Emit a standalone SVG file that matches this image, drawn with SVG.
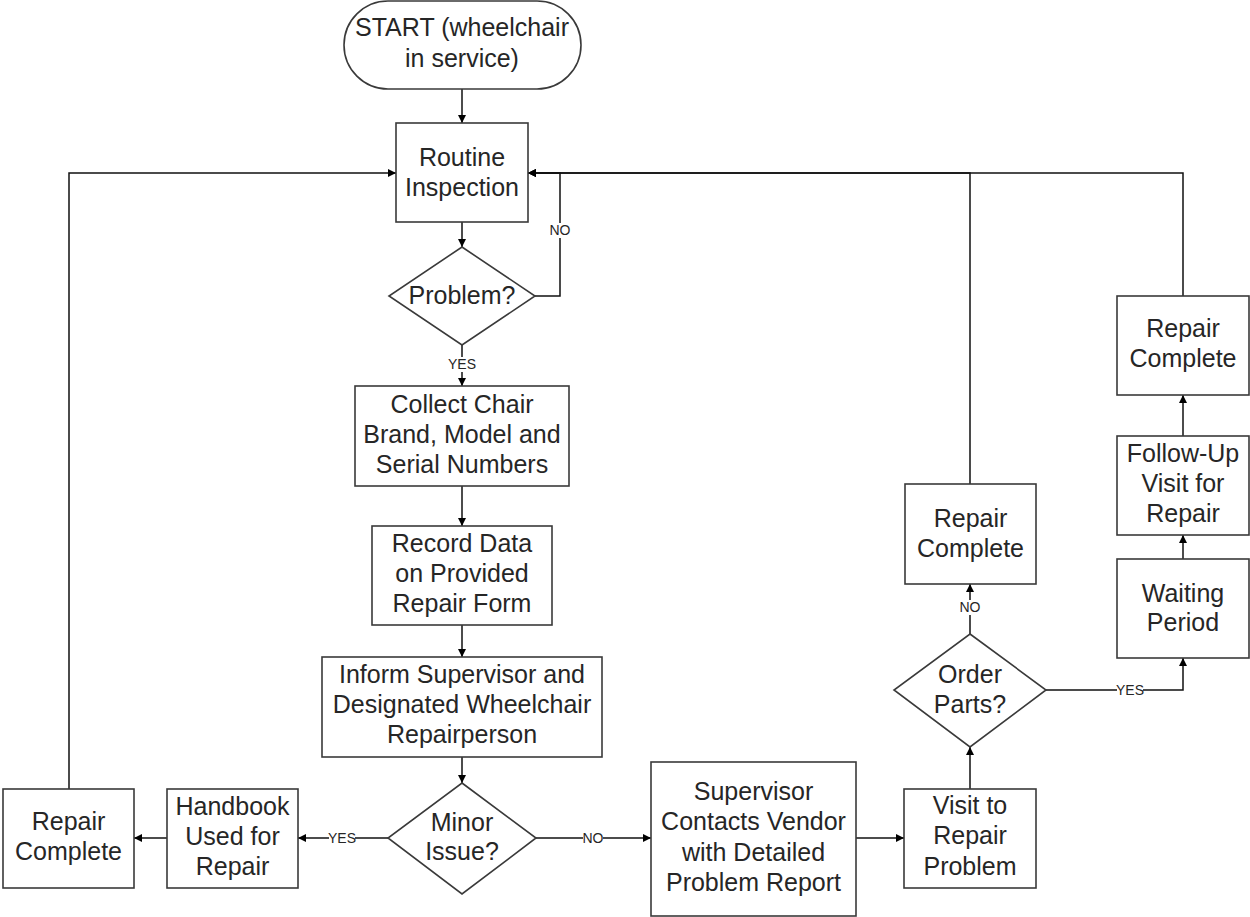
<svg xmlns="http://www.w3.org/2000/svg" width="1250" height="917" viewBox="0 0 1250 917">
<defs>
<marker id="ah" viewBox="0 0 10 10" refX="10" refY="5" markerWidth="8" markerHeight="8" markerUnits="userSpaceOnUse" orient="auto">
<path d="M0,0 L10,5 L0,10 z" fill="#000"/>
</marker>
<style>
.shape{fill:#fff;stroke:#3a3a3a;stroke-width:1.6}
.t{font-family:"Liberation Sans",Arial,sans-serif;font-size:25px;fill:#262626;text-anchor:middle}
.c{fill:none;stroke:#111;stroke-width:1.5}
.a{marker-end:url(#ah)}
.bg{fill:#fff;stroke:none}
.lbl{font-family:"Liberation Sans",Arial,sans-serif;font-size:14px;fill:#262626;text-anchor:middle}
</style>
</defs>
<rect width="1250" height="917" fill="#fff"/>
<g id="connectors">
<path class="c a" d="M462,89 V123"/>
<path class="c a" d="M462,222 V247"/>
<path class="c a" d="M535,296 H560 V173 H528"/>
<path class="c a" d="M462,345 V386"/>
<path class="c a" d="M462,486 V526"/>
<path class="c a" d="M462,625 V657"/>
<path class="c a" d="M462,757 V783"/>
<path class="c a" d="M388,838 H298"/>
<path class="c a" d="M167,838 H134"/>
<path class="c a" d="M69,789 V173 H396"/>
<path class="c a" d="M536,838 H651"/>
<path class="c a" d="M856,838 H904"/>
<path class="c a" d="M970,789 V747"/>
<path class="c a" d="M970,634 V584"/>
<path class="c a" d="M970,484 V173 H528"/>
<path class="c a" d="M1046,690 H1183 V658"/>
<path class="c a" d="M1183,559 V535"/>
<path class="c a" d="M1183,436 V395"/>
<path class="c a" d="M1183,296 V173 H528"/>
<rect class="bg" x="550" y="223" width="20" height="15"/>
<text class="lbl" x="560" y="235">NO</text>
<rect class="bg" x="449" y="357" width="26" height="15"/>
<text class="lbl" x="462" y="369">YES</text>
<rect class="bg" x="329" y="831" width="26" height="15"/>
<text class="lbl" x="342" y="843">YES</text>
<rect class="bg" x="583" y="831" width="20" height="15"/>
<text class="lbl" x="593" y="843">NO</text>
<rect class="bg" x="960" y="600" width="20" height="15"/>
<text class="lbl" x="970" y="612">NO</text>
<rect class="bg" x="1117" y="683" width="26" height="15"/>
<text class="lbl" x="1130" y="695">YES</text>
</g>
<g id="start">
<rect class="shape" x="344" y="1" width="237" height="88" rx="44" ry="44"/>
<text class="t" x="462" y="36">START (wheelchair</text>
<text class="t" x="462" y="67">in service)</text>
</g>
<g id="routine">
<rect class="shape" x="396" y="123" width="132" height="99"/>
<text class="t" x="462" y="166">Routine</text>
<text class="t" x="462" y="196">Inspection</text>
</g>
<g id="problem">
<polygon class="shape" points="462,247 535,296 462,345 389,296"/>
<text class="t" x="462" y="304">Problem?</text>
</g>
<g id="collect">
<rect class="shape" x="355" y="386" width="214" height="100"/>
<text class="t" x="462" y="413">Collect Chair</text>
<text class="t" x="462" y="443">Brand, Model and</text>
<text class="t" x="462" y="473">Serial Numbers</text>
</g>
<g id="record">
<rect class="shape" x="372" y="526" width="180" height="99"/>
<text class="t" x="462" y="552">Record Data</text>
<text class="t" x="462" y="582">on Provided</text>
<text class="t" x="462" y="612">Repair Form</text>
</g>
<g id="inform">
<rect class="shape" x="322" y="657" width="280" height="100"/>
<text class="t" x="462" y="683">Inform Supervisor and</text>
<text class="t" x="462" y="713">Designated Wheelchair</text>
<text class="t" x="462" y="743">Repairperson</text>
</g>
<g id="minor">
<polygon class="shape" points="462,783 536,838 462,894 388,838"/>
<text class="t" x="462" y="831">Minor</text>
<text class="t" x="462" y="860">Issue?</text>
</g>
<g id="handbook">
<rect class="shape" x="167" y="789" width="131" height="99"/>
<text class="t" x="232.5" y="815">Handbook</text>
<text class="t" x="232.5" y="845">Used for</text>
<text class="t" x="232.5" y="875">Repair</text>
</g>
<g id="repair-left">
<rect class="shape" x="3" y="789" width="131" height="99"/>
<text class="t" x="68.5" y="830">Repair</text>
<text class="t" x="68.5" y="860">Complete</text>
</g>
<g id="supervisor">
<rect class="shape" x="651" y="762" width="205" height="154"/>
<text class="t" x="753.5" y="800">Supervisor</text>
<text class="t" x="753.5" y="830">Contacts Vendor</text>
<text class="t" x="753.5" y="861">with Detailed</text>
<text class="t" x="753.5" y="891">Problem Report</text>
</g>
<g id="visit">
<rect class="shape" x="904" y="789" width="132" height="99"/>
<text class="t" x="970" y="814">Visit to</text>
<text class="t" x="970" y="844">Repair</text>
<text class="t" x="970" y="875">Problem</text>
</g>
<g id="order">
<polygon class="shape" points="970,634 1046,690 970,747 894,690"/>
<text class="t" x="970" y="683">Order</text>
<text class="t" x="970" y="713">Parts?</text>
</g>
<g id="repair-mid">
<rect class="shape" x="905" y="484" width="131" height="100"/>
<text class="t" x="970.5" y="527">Repair</text>
<text class="t" x="970.5" y="557">Complete</text>
</g>
<g id="waiting">
<rect class="shape" x="1117" y="559" width="132" height="99"/>
<text class="t" x="1183" y="602">Waiting</text>
<text class="t" x="1183" y="631">Period</text>
</g>
<g id="followup">
<rect class="shape" x="1117" y="436" width="132" height="99"/>
<text class="t" x="1183" y="462">Follow-Up</text>
<text class="t" x="1183" y="492">Visit for</text>
<text class="t" x="1183" y="522">Repair</text>
</g>
<g id="repair-top">
<rect class="shape" x="1117" y="296" width="132" height="99"/>
<text class="t" x="1183" y="337">Repair</text>
<text class="t" x="1183" y="367">Complete</text>
</g>
</svg>
